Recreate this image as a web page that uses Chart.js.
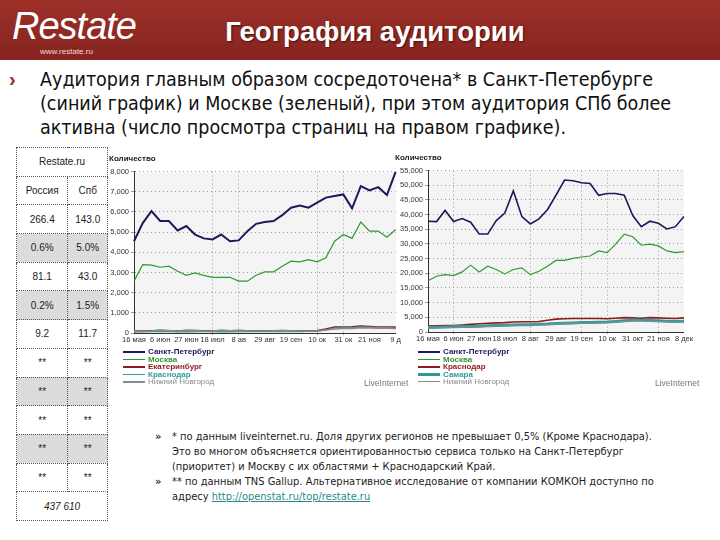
<!DOCTYPE html>
<html>
<head>
<meta charset="utf-8">
<script src="https://cdn.jsdelivr.net/npm/chart.js@4/dist/chart.umd.min.js"></script>
<style>
  body { margin: 0; width: 720px; height: 540px; background: #fff; position: relative; overflow: hidden; font-family: "Liberation Sans", Arial, sans-serif; }
  .abs { position: absolute; }
  #band { left: 0; top: 0; width: 720px; height: 60px; background: linear-gradient(#9c3029, #86241f); }
  #logo { left: 12px; top: 5px; color: #fff; font-style: italic; font-size: 38px; letter-spacing: -1px; }
  #site { left: 40px; top: 47px; color: #f0dcdc; font-size: 8px; }
  #title { left: 175px; top: 16px; width: 400px; text-align: center; color: #fff; font-weight: bold; font-size: 27.5px; text-shadow: 1px 1px 2px #4a100c; }
  #bullet { left: 9px; top: 68px; color: #9c2a24; font-size: 20px; font-weight: bold; }
  #lead { left: 40px; top: 68px; width: 675px; font-family: "Liberation Sans Narrow", "DejaVu Sans Condensed", sans-serif; font-size: 19.5px; line-height: 24px; color: #111; }
  table { position: absolute; left: 16px; top: 147px; width: 92px; border-collapse: collapse; font-size: 10px; color: #222; }
  td { border: 1px dotted #555; text-align: center; height: 27.7px; padding: 0; }
  tr.g td { background: #dcdcdc; }
  .leg { font-family: "Liberation Sans", Arial, sans-serif; font-size: 8px; line-height: 7.5px; }
  .leg div { height: 7.5px; white-space: nowrap; }
  .leg span.s { display: inline-block; width: 22px; height: 0; vertical-align: middle; margin-right: 3px; }
  .li { font-size: 8.5px; color: #777; }
  #notes { left: 155px; top: 429px; width: 565px; font-family: "DejaVu Sans", sans-serif; font-size: 9.9px; line-height: 15px; color: #222; white-space: nowrap; }
  #notes .r { position: relative; padding-left: 17px; }
  #notes .r b { position: absolute; left: 0; top: 0; color: #333; font-weight: bold; }
  #notes a { color: #2a8a8a; }
</style>
</head>
<body>
<div id="band" class="abs"></div>
<div id="logo" class="abs">Restate</div>
<div id="site" class="abs">www.restate.ru</div>
<div id="title" class="abs">География аудитории</div>
<div id="bullet" class="abs">›</div>
<div id="lead" class="abs">Аудитория главным образом сосредоточена* в Санкт-Петербурге (синий график) и Москве (зеленый), при этом аудитория СПб более активна (число просмотра страниц на правом графике).</div>

<table>
  <tr><td colspan="2">Restate.ru</td></tr>
  <tr><td>Россия</td><td>Спб</td></tr>
  <tr><td>266.4</td><td>143.0</td></tr>
  <tr class="g"><td>0.6%</td><td>5.0%</td></tr>
  <tr><td>81.1</td><td>43.0</td></tr>
  <tr class="g"><td>0.2%</td><td>1.5%</td></tr>
  <tr><td>9.2</td><td>11.7</td></tr>
  <tr><td>**</td><td>**</td></tr>
  <tr class="g"><td>**</td><td>**</td></tr>
  <tr><td>**</td><td>**</td></tr>
  <tr class="g"><td>**</td><td>**</td></tr>
  <tr><td>**</td><td>**</td></tr>
  <tr><td colspan="2"><i>437 610</i></td></tr>
</table>

<div class="abs" style="left:109px; top:154px; width:292px; height:196px;"><canvas id="left"></canvas></div>
<div class="abs" style="left:395px; top:153px; width:298px; height:196px;"><canvas id="right"></canvas></div>
<div id="legLeft" class="abs leg" style="left:123px; top:348px;"></div>
<div id="legRight" class="abs leg" style="left:418px; top:348px;"></div>
<div class="abs li" style="left:364px; top:378px;">LiveInternet</div>
<div class="abs li" style="left:655px; top:378px;">LiveInternet</div>

<div id="notes" class="abs">
  <div class="r"><b>»</b>* по данным liveinternet.ru. Доля других регионов не превышает 0,5% (Кроме Краснодара).<br>Это во многом объясняется ориентированностью сервиса только на Санкт-Петербург<br>(приоритет) и Москву с их областями + Краснодарский Край.</div>
  <div class="r"><b>»</b>** по данным TNS Gallup. Альтернативное  исследование от компании КОМКОН доступно по<br>адресу <a href="#">http://openstat.ru/top/restate.ru</a></div>
</div>

<script>
// weekly points, 16 May .. Dec
const weeks = ['16.05','23.05','30.05','06.06','13.06','20.06','27.06','04.07','11.07','18.07','25.07',
  '01.08','08.08','15.08','22.08','29.08','05.09','12.09','19.09','26.09','03.10','10.10','17.10',
  '24.10','31.10','07.11','14.11','21.11','28.11','05.12','12.12'];
const leftTicks = ['16 мая','6 июн','27 июн','18 июл','8 ав','29 авг','19 сен','10 ок','31 ок','21 ноя','9 д'];
const rightTicks = ['16 мая','6 июн','27 июн','18 июл','8 авг','29 авг','19 сен','10 ок','31 окт','21 ноя','8 дек'];

// left chart: visitors
const leftNames = ['Санкт-Петербург','Москва','Екатеринбург','Краснодар','Нижний Новгород'];
const leftSpb = [4550,5450,6040,5550,5550,5080,5300,4880,4690,4640,4880,4550,4590,5050,5410,5500,5550,5840,6210,6320,6210,6460,6710,6790,6870,6180,7280,7070,7230,6840,8000];
const leftMsk = [2570,3390,3360,3260,3310,3060,2860,2980,2860,2760,2760,2760,2570,2570,2860,3030,3030,3310,3560,3530,3640,3530,3730,4550,4880,4690,5500,5050,5050,4750,5130];
const leftEkb = [100,100,110,120,110,100,110,120,110,100,110,110,120,110,110,110,110,120,110,110,110,120,200,290,300,310,340,320,300,300,290];
const leftKrd = [60,60,70,70,70,60,60,70,70,70,60,60,70,70,70,70,70,70,70,70,80,80,150,250,260,270,300,290,270,260,220];
const leftNn = [80,90,100,150,120,80,150,120,100,80,150,110,120,110,100,100,110,110,110,100,100,110,150,200,220,230,260,250,240,240,230];
const leftYTicks = [0,1000,2000,3000,4000,5000,6000,7000,8000];
const leftVGrid = [9,12,21,24];

// right chart: page views
const rightNames = ['Санкт-Петербург','Москва','Краснодар','Самара','Нижний Новгород'];
const rightSpb = [37750,37630,41430,37630,38670,37400,33370,33370,37970,40500,48100,39350,36820,38550,41650,46600,51780,51550,50860,50630,46600,47180,47180,46600,39700,35900,37750,37050,35100,35900,39350];
const rightMsk = [17490,18990,19560,19220,20480,22780,20480,22440,21290,19790,21290,21860,19560,20710,22440,24400,24400,25090,25550,25890,27620,27040,29920,33370,32450,29570,29920,29340,27620,27040,27390];
const rightKrd = [2000,2100,2200,2200,2400,2600,2800,3000,3100,3200,3400,3500,3500,3600,4000,4400,4500,4600,4600,4600,4600,4500,4700,4900,4800,4700,4900,4800,4700,4600,4800];
const rightSam = [1500,1600,1700,1800,1900,1900,2000,2100,2200,2300,2400,2500,2500,2600,2700,2900,3000,3100,3200,3200,3300,3400,3600,3800,4000,4000,3900,3800,3700,3600,3700];
const rightNn = [1300,1400,1500,1600,1700,1700,1800,1900,2000,2100,2200,2300,2300,2400,2500,2700,2800,2900,3000,3000,3100,3200,3400,3600,3800,3800,3700,3600,3500,3400,3500];
const rightYTicks = [0,5000,10000,15000,20000,25000,30000,35000,40000,45000,50000,55000];
const rightVGrid = [3,12,18,21,27];

const NAVY = '#1b1a5c', GREEN = '#2f9a2f', RED = '#8e1b1b', TEAL = '#2f9c9c', GRAY = '#8a8a8a';

const plotBg = {
  id: 'plotBg',
  beforeDraw(chart) {
    const { ctx, chartArea: a } = chart;
    ctx.save();
    ctx.fillStyle = '#f4f4f4';
    ctx.fillRect(a.left, a.top, a.width, a.height);
    ctx.restore();
  }
};

const fmt = v => v.toLocaleString('en-US');

const makeChart = (id, series, yTicks, xTicks, vGrid, yWidth, padRight) => {
  const ctx = document.getElementById(id).getContext('2d');
  return new Chart(ctx, {
    type: 'line',
    data: {
      labels: weeks,
      datasets: series.map(s => ({
        label: s.name, data: s.data, borderColor: s.color,
        borderWidth: s.width, pointRadius: 0, tension: 0, fill: false
      })).reverse()
    },
    options: {
      responsive: true,
      maintainAspectRatio: false,
      animation: false,
      layout: { padding: { top: 0, right: padRight, bottom: 6, left: 0 } },
      plugins: {
        legend: { display: false },
        tooltip: { enabled: false },
        title: {
          display: true, text: 'Количество', align: 'start', color: '#222',
          font: { size: 8, weight: 'bold', family: 'Liberation Sans' },
          padding: { top: 0, bottom: 8 }
        }
      },
      scales: {
        x: {
          ticks: {
            autoSkip: false, maxRotation: 0, color: '#333', padding: 0,
            font: { size: 7.5, family: 'Liberation Sans' },
            callback: (v, i) => (i % 3 === 0 ? xTicks[i / 3] : '')
          },
          grid: {
            color: c => (vGrid.includes(c.index) ? '#9a9a9a' : 'rgba(0,0,0,0)'),
            tickLength: 2
          },
          border: { color: '#333', dash: [1, 3] }
        },
        y: {
          min: yTicks[0], max: yTicks[yTicks.length - 1],
          afterBuildTicks: axis => { axis.ticks = yTicks.map(v => ({ value: v })); },
          afterFit: axis => { axis.width = yWidth; },
          ticks: {
            color: '#333', padding: 2,
            font: { size: 7.5, family: 'Liberation Sans' },
            callback: v => fmt(v)
          },
          grid: { color: '#9a9a9a', tickLength: 3 },
          border: { color: '#333', dash: [1, 3] }
        }
      }
    },
    plugins: [plotBg]
  });
};

const leftSeries = [
  { name: leftNames[0], data: leftSpb, color: NAVY, width: 2 },
  { name: leftNames[1], data: leftMsk, color: GREEN, width: 1.2 },
  { name: leftNames[2], data: leftEkb, color: RED, width: 1.6 },
  { name: leftNames[3], data: leftKrd, color: TEAL, width: 1.2 },
  { name: leftNames[4], data: leftNn, color: GRAY, width: 1.6 }
];
const rightSeries = [
  { name: rightNames[0], data: rightSpb, color: NAVY, width: 1.6 },
  { name: rightNames[1], data: rightMsk, color: GREEN, width: 1.2 },
  { name: rightNames[2], data: rightKrd, color: RED, width: 1.6 },
  { name: rightNames[3], data: rightSam, color: TEAL, width: 3 },
  { name: rightNames[4], data: rightNn, color: GRAY, width: 1 }
];

makeChart('left', leftSeries, leftYTicks, leftTicks, leftVGrid, 25, 1);
makeChart('right', rightSeries, rightYTicks, rightTicks, rightVGrid, 33, 4);

// legends under the charts
const buildLegend = (el, series) => {
  document.getElementById(el).innerHTML = series.map((s, i) =>
    `<div><span class="s" style="border-top:${Math.max(1, Math.round(s.width))}px solid ${s.color}"></span>` +
    `<span style="color:${s.color};font-weight:${i < 4 ? 'bold' : 'normal'}">${s.name}</span></div>`
  ).join('');
};
buildLegend('legLeft', leftSeries);
buildLegend('legRight', rightSeries);
</script>
</body>
</html>
